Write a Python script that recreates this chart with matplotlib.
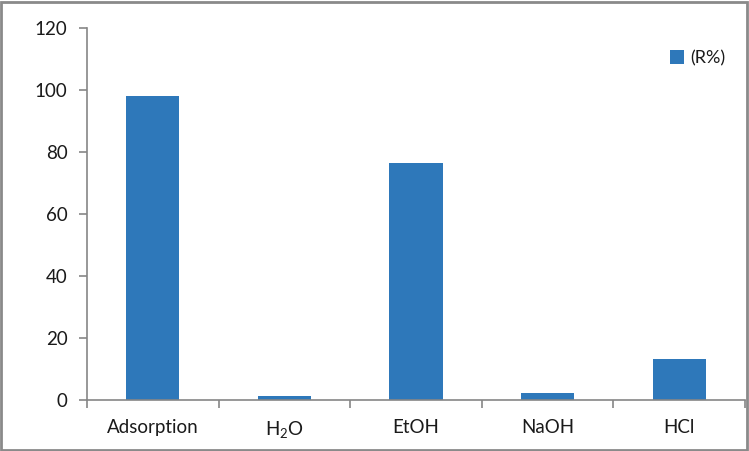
import matplotlib
matplotlib.use("Agg")
import matplotlib.pyplot as plt
from matplotlib.patches import Rectangle

categories = ["Adsorption", "H$_\\mathregular{2}$O", "EtOH", "NaOH", "HCl"]
values = [98.2, 1.4, 76.3, 2.2, 13.1]
yticks = [0, 20, 40, 60, 80, 100, 120]
series_name = "(R%)"

plt.rcParams['font.family'] = ['Lato', 'DejaVu Sans']
plt.rcParams['mathtext.fontset'] = 'custom'
plt.rcParams['mathtext.rm'] = 'Lato'

W, H = 749, 451
fig = plt.figure(figsize=(W / 100, H / 100), dpi=100)
ax = fig.add_axes([87 / W, 1 - 400 / H, (745 - 87) / W, (400 - 28) / H])

bar_color = "#2E78BA"
gray = "#868686"
txt = "#1a1a1a"
x = list(range(len(categories)))
ax.bar(x, values, width=0.405, color=bar_color, label=series_name, zorder=2)

ax.set_xlim(-0.5, len(categories) - 0.5)
ax.set_ylim(0, 120)
ax.set_yticks(yticks)
ax.set_yticklabels([str(v) for v in yticks], fontsize=13.5, color=txt)
ax.set_xticks(x)
ax.set_xticklabels(categories, fontsize=13.5, color=txt)
ax.tick_params(axis='x', which='major', length=0, pad=14)
ax.set_xticks([i - 0.5 for i in range(len(categories) + 1)], minor=True)
ax.tick_params(axis='x', which='minor', length=6, width=1.2, color=gray, direction='out')
ax.tick_params(axis='y', length=6, width=1.2, color=gray, direction='out', pad=8)

for s in ['top', 'right']:
    ax.spines[s].set_visible(False)
for s in ['left', 'bottom']:
    ax.spines[s].set_color(gray)
    ax.spines[s].set_linewidth(1.2)

leg = ax.legend(loc='upper right', bbox_to_anchor=(0.995, 0.985), frameon=False,
                fontsize=13, handlelength=0.8, handleheight=0.8, handletextpad=0.35)
for t in leg.get_texts():
    t.set_color(txt)

fig.patches.append(Rectangle((0.002, 0.003), 0.995, 0.993, transform=fig.transFigure,
                             fill=False, edgecolor="#8a8a8a", linewidth=2.0))

fig.savefig("out.png", dpi=100)
